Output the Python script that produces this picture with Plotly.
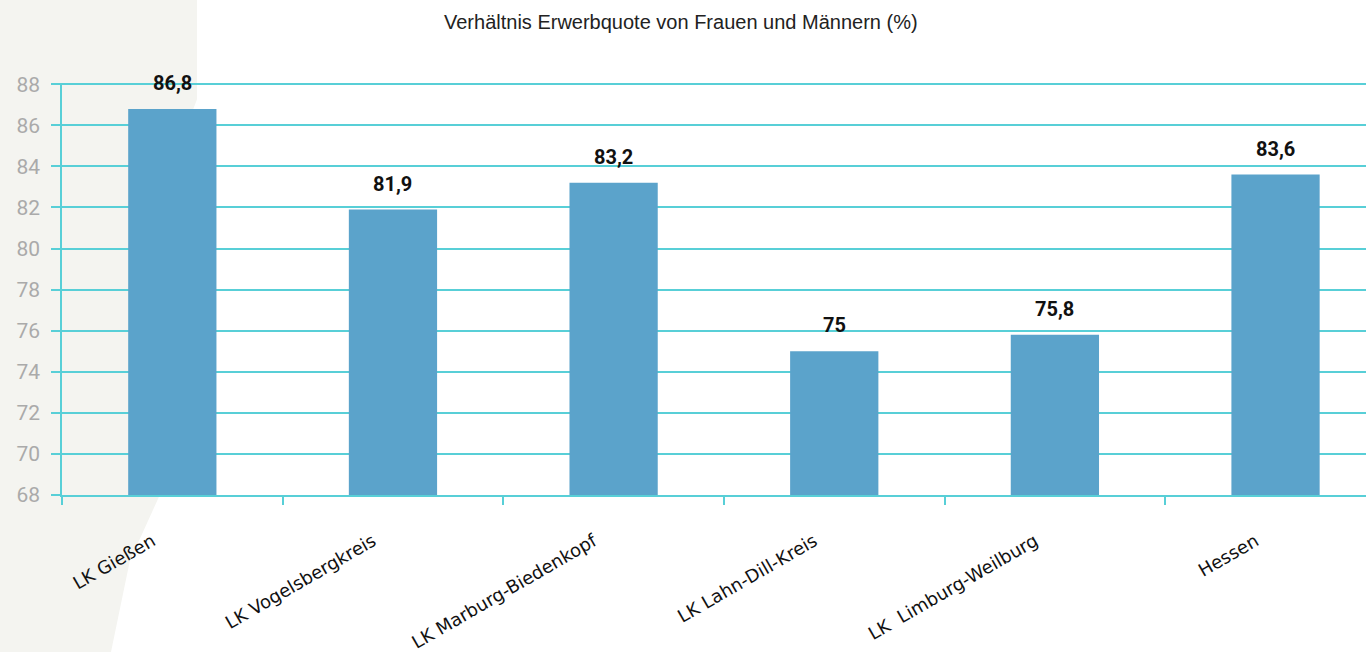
import plotly.graph_objects as go

categories = ["LK Gießen", "LK Vogelsbergkreis", "LK Marburg-Biedenkopf",
              "LK Lahn-Dill-Kreis", "LK  Limburg-Weilburg", "Hessen"]
values = [86.8, 81.9, 83.2, 75.0, 75.8, 83.6]
value_labels = ["86,8", "81,9", "83,2", "75", "75,8", "83,6"]
y_ticks = [68, 70, 72, 74, 76, 78, 80, 82, 84, 86, 88]
title_text = "Verhältnis Erwerbquote von Frauen und Männern (%)"

BAR = "#5BA3CB"
GRID = "#58CFD7"

fig = go.Figure()
fig.add_trace(go.Bar(
    x=categories, y=values, marker=dict(color=BAR, line=dict(width=0)),
    width=0.4, hoverinfo="skip", cliponaxis=True
))

for c, v, t in zip(categories, values, value_labels):
    fig.add_annotation(x=c, y=v, text="<b>" + t + "</b>", showarrow=False,
                       yanchor="bottom", yshift=12,
                       font=dict(family="Roboto", size=20, color="#111111"))

fig.add_annotation(xref="paper", yref="paper", x=0.475, y=1.0, yshift=61,
                   text=title_text, showarrow=False, yanchor="middle",
                   font=dict(family="Liberation Sans", size=20, color="#222222"))

# subtle off-white paper strip on the left
fig.add_shape(type="path", xref="paper", yref="paper", layer="below",
              path="M -0.05 1.21 L 0.1035 1.21 L 0.1035 0.96 L 0.09 0.85 L 0.075 0.0 L 0.052 -0.16 L 0.037 -0.39 L -0.05 -0.39 Z",
              fillcolor="#F4F4F0", line=dict(width=0))

fig.update_layout(
    width=1366, height=652,
    margin=dict(l=62, r=0, t=83, b=157),
    paper_bgcolor="white", plot_bgcolor="rgba(0,0,0,0)",
    showlegend=False,
    xaxis=dict(
        type="category", range=[-0.5, 5.41],
        tickson="boundaries", ticks="outside", ticklen=8, tickcolor=GRID, tickwidth=2,
        showline=True, linecolor=GRID, linewidth=2,
        tickangle=-30, showgrid=False,
        ticklabelstandoff=27, ticklabelshift=-20,
        tickfont=dict(family="DejaVu Sans", size=18, color="#111111"),
    ),
    yaxis=dict(
        range=[68, 88.06], tickmode="array",
        tickvals=y_ticks, ticktext=[str(t) for t in y_ticks],
        showgrid=True, gridcolor=GRID, gridwidth=1.5,
        ticks="outside", ticklen=9, tickcolor=GRID, tickwidth=1.5,
        showline=True, linecolor=GRID, linewidth=1.5,
        zeroline=False, ticklabelstandoff=7,
        tickfont=dict(family="Roboto", size=21, color="#AAAAAA"),
    ),
)

fig.write_html("out.html", config={"displayModeBar": False},
               post_script="document.body.style.margin='0';")
